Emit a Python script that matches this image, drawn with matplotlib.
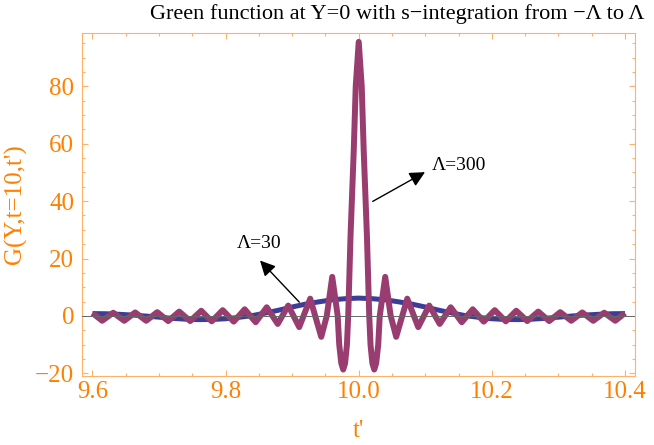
import numpy as np
import matplotlib.pyplot as plt
from matplotlib.ticker import MultipleLocator

plt.rcParams['font.family'] = ['Liberation Serif', 'DejaVu Serif']

t_center = 10.0

# Lambda = 30 (blue)
blue_off = [0.00, 0.02, 0.04, 0.06, 0.08, 0.10, 0.12, 0.14, 0.16, 0.18, 0.20,
            0.22, 0.24, 0.26, 0.28, 0.30, 0.32, 0.34, 0.36, 0.38, 0.40]
blue_val = [6.2, 6.0, 5.6, 4.9, 4.1, 3.1, 2.0, 1.0, 0.1, -0.5, -1.0,
            -1.25, -1.3, -1.15, -0.85, -0.45, -0.05, 0.3, 0.55, 0.75, 0.8]

# Lambda = 300 (magenta), extrema and a few points on the central lobes
mag_off = [0.0, 0.0045, 0.0075, 0.0123, 0.0158, 0.0177, 0.0205, 0.0233, 0.0262,
           0.0293, 0.0316, 0.0398, 0.048, 0.0563, 0.0729, 0.0894, 0.1059, 0.1217,
           0.1382, 0.1548, 0.1713, 0.1878, 0.2043, 0.2209, 0.2366, 0.2532, 0.2697,
           0.2862, 0.3027, 0.3193, 0.3358, 0.3523, 0.3688, 0.3854, 0.40]
mag_val = [95.5, 80.0, 57.5, 28.0, 0.0, -10.0, -16.5, -18.7, -16.5,
           -10.0, 0.0, 13.6, 0.0, -7.3, 6.0, -3.9, 3.6, -2.8,
           3.0, -2.2, 2.3, -2.0, 2.0, -1.9, 1.8, -1.8, 1.5,
           -1.8, 1.3, -1.7, 1.2, -1.7, 1.1, -1.7, 1.0]


def mirror(off, val):
    off = np.array(off)
    val = np.array(val)
    t = np.concatenate([t_center - off[::-1], t_center + off[1:]])
    g = np.concatenate([val[::-1], val[1:]])
    return t, g


t_blue, g_blue = mirror(blue_off, blue_val)
t_mag, g_mag = mirror(mag_off, mag_val)

orange = '#FF8000'
frame_col = '#FFB266'

fig = plt.figure(figsize=(6.54, 4.45), dpi=100)
ax = fig.add_axes([0.1249, 0.1557, 0.846, 0.7708])

ax.plot(t_blue, g_blue, color='#3D3D99', lw=3.6, solid_capstyle='butt', zorder=2)
ax.plot(t_mag, g_mag, color='#993D71', lw=4.3, solid_joinstyle='round',
        solid_capstyle='butt', zorder=3)
ax.axhline(0, color='#666666', lw=0.7, zorder=4)

ax.set_xlim(9.5838, 10.415)
ax.set_ylim(-20.85, 98.7)

ax.xaxis.set_major_locator(MultipleLocator(0.2))
ax.xaxis.set_minor_locator(MultipleLocator(0.05))
ax.yaxis.set_major_locator(MultipleLocator(20))
ax.yaxis.set_minor_locator(MultipleLocator(5))
ax.tick_params(which='both', direction='in', top=True, right=True,
               color=frame_col, width=0.8, labelcolor=orange, labelsize=18)
ax.tick_params(which='major', length=4.3)
ax.tick_params(which='minor', length=2.5)
ax.tick_params(axis='x', pad=4)
ax.tick_params(axis='y', pad=5.5)
for s in ax.spines.values():
    s.set_color(frame_col)
    s.set_linewidth(0.8)

ax.set_ylabel("G(Y,t=10,t')", fontsize=18, color=orange)
ax.yaxis.set_label_coords(-0.099, 0.5)
ax.set_xlabel("t'", fontsize=18, color=orange)
ax.xaxis.set_label_coords(0.5, -0.13)

arrow = dict(arrowstyle='-|>', color='black', lw=1.0, mutation_scale=23,
             shrinkA=0, shrinkB=0)
ax.annotate('', xy=(10.0996, 50.1), xytext=(10.021, 39.9), arrowprops=arrow, zorder=5)
ax.text(10.1096, 52.4, 'Λ=300', fontsize=14, ha='left', va='center')
ax.annotate('', xy=(9.8517, 19.3), xytext=(9.9107, 4.8), arrowprops=arrow, zorder=5)
ax.text(9.884, 25.4, 'Λ=30', fontsize=14, ha='right', va='center')

fig.text(0.607, 0.969, 'Green function at Y=0 with s\u2212integration from \u2212Λ to Λ',
         fontsize=16, ha='center', va='center')

fig.savefig('out.png', dpi=100)
